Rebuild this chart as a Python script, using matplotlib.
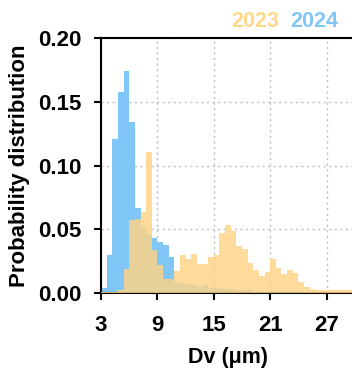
import numpy as np
from matplotlib import pyplot as plt

plt.rcParams['font.family'] = ['Liberation Sans', 'DejaVu Sans']
plt.rcParams['font.weight'] = 'bold'

# histogram bins: 0.6 um wide, from 3 to 30 um
bin_left = np.arange(3.0, 30.0, 0.6)
bin_width = 0.6

prob_2024 = [0.004, 0.030, 0.121, 0.158, 0.174, 0.134, 0.067, 0.052, 0.046, 0.043,
             0.040, 0.0375, 0.028, 0.009, 0.008, 0.007, 0.006, 0.005, 0.006, 0.004,
             0.004, 0.003, 0.003, 0.003, 0.002, 0.002, 0.002, 0.001, 0.001, 0.001,
             0.001, 0.001, 0.001, 0.001, 0.001, 0.001, 0.001, 0.001, 0.001, 0.001,
             0.001, 0.001, 0.001, 0.001, 0.001]
prob_2023 = [0.001, 0.001, 0.001, 0.002, 0.019, 0.057, 0.058, 0.0635, 0.111, 0.034,
             0.022, 0.011, 0.011, 0.017, 0.0297, 0.027, 0.031, 0.023, 0.0224, 0.0284,
             0.0297, 0.047, 0.053, 0.049, 0.037, 0.0344, 0.0234, 0.018, 0.013, 0.0167,
             0.027, 0.0193, 0.015, 0.018, 0.016, 0.009, 0.005, 0.003, 0.002, 0.002,
             0.002, 0.002, 0.002, 0.002, 0.002]

c2023 = '#FFD485'
c2024 = '#80C6F6'

fig = plt.figure(figsize=(3.52, 3.70), dpi=100)
ax = fig.add_axes([0.287, 0.208, 0.721, 0.689])

ax.bar(bin_left, prob_2024, width=bin_width, align='edge', color=c2024,
       edgecolor='none', zorder=2)
ax.bar(bin_left, prob_2023, width=bin_width, align='edge', color=c2023,
       alpha=0.82, edgecolor='none', zorder=3)

ax.set_xlim(3, 30)
ax.set_ylim(0, 0.2)
ax.set_xticks([3, 9, 15, 21, 27])
ax.set_yticks([0, 0.05, 0.10, 0.15, 0.20])
ax.set_yticklabels(['0.00', '0.05', '0.10', '0.15', '0.20'])
ax.grid(True, color='#bdbdbd', linestyle=(0, (1.5, 2.5)), linewidth=1, zorder=0)
ax.set_axisbelow(True)

for side in ['left', 'bottom', 'top']:
    ax.spines[side].set_linewidth(1.5)
ax.spines['right'].set_visible(False)
ax.tick_params(width=1.5, length=5, labelsize=16)
ax.tick_params(axis='x', pad=11)
ax.tick_params(axis='y', pad=9)

ax.set_xlabel('Dv (μm)', fontsize=15.5, fontweight='bold', labelpad=8)
ax.set_ylabel('Probability distribution', fontsize=16, fontweight='bold', labelpad=6)

ax.text(0.607, 1.065, '2023', color='#FFD88A', fontsize=15.5, fontweight='bold',
        ha='center', va='center', transform=ax.transAxes)
ax.text(0.839, 1.065, '2024', color='#80C6F6', fontsize=15.5, fontweight='bold',
        ha='center', va='center', transform=ax.transAxes)

fig.savefig('out.png', dpi=100)
